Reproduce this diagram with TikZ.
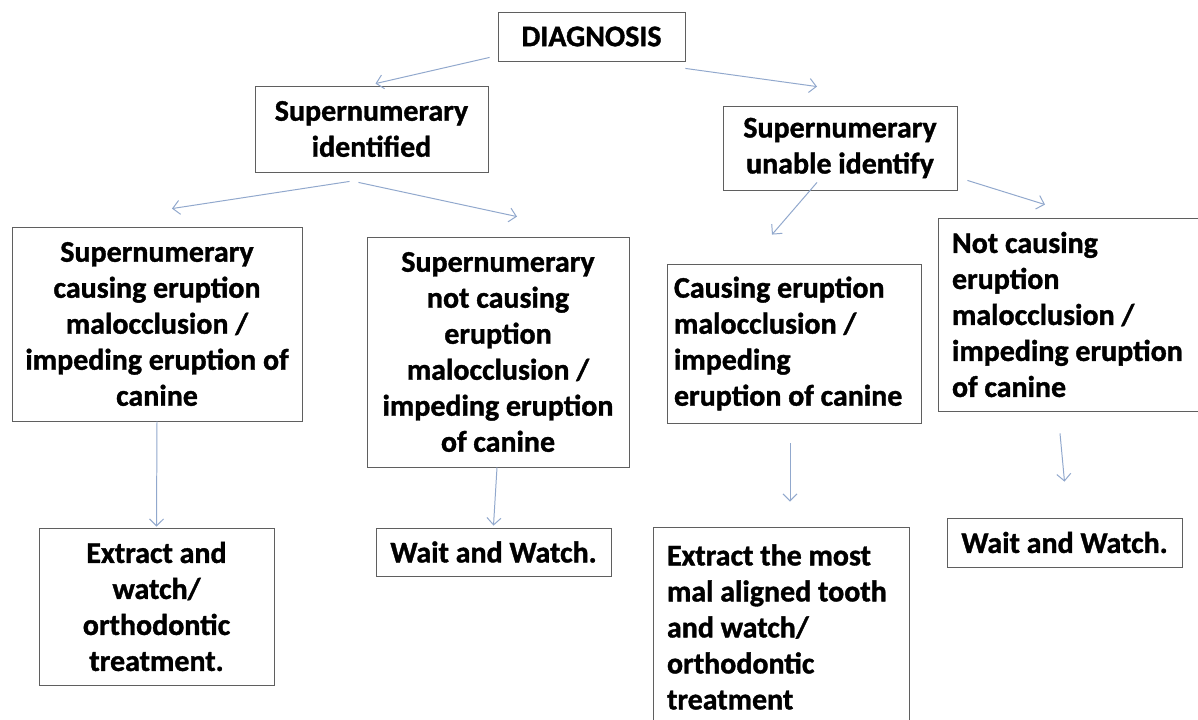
\documentclass[tikz,border=0pt]{standalone}
\usepackage{fontspec}
\setmainfont{Carlito}[BoldFeatures={FakeBold=1.2}]
\usetikzlibrary{calc,arrows.meta}
\newdimen\pxu \pxu=0.025cm
\definecolor{arrowblue}{RGB}{145,168,205}
\definecolor{boxgray}{RGB}{95,95,95}
\tikzset{every node/.style={draw=boxgray,line width=0.6pt,inner sep=0pt,font=\bfseries\fontsize{21.3}{25.6}\selectfont}}
\tikzset{conn/.style={draw=arrowblue,line width=0.7pt,-{Straight Barb[length=1.75mm,width=3.5mm]}}}
\tikzset{sz/.style 2 args={minimum width=#1\pxu,minimum height=#2\pxu}}
\tikzset{c/.style={align=center}}
\tikzset{lft/.style={align=flush left,text width=#1\pxu}}

\begin{document}
\begin{tikzpicture}[x=0.025cm,y=-0.025cm]
\useasboundingbox[fill=white] (0,0) rectangle (1198,719);
\node[sz={187}{49}](diag) at (591.5,36.5) {DIAGNOSIS};
\node[sz={233}{86},c](ident) at (371.5,129) {Supernumerary\\identified};
\node[sz={234}{84},c](unable) at (840,148) {Supernumerary\\unable identify};
\node[sz={290}{194},c](causes) at (157,324) {Supernumerary\\causing eruption\\malocclusion /\\impeding eruption of\\canine};
\node[sz={262}{230},c](notcauses) at (498,352) {Supernumerary\\not causing\\eruption\\malocclusion /\\impeding eruption\\of canine};
\node[sz={254}{159},lft=240](ucauses) at (794,343.5) {Causing eruption\\malocclusion /\\impeding\\eruption of canine};
\node[sz={272}{193},lft=244](unot) at (1074,314.5) {Not causing\\eruption\\malocclusion /\\impeding eruption\\of canine};
\node[sz={235}{157},c](extract) at (156.5,606.5) {Extract and\\watch/\\orthodontic\\treatment.};
\node[sz={235}{48},c](wait) at (493.5,552) {Wait and Watch.};
\node[sz={256}{200},lft=228](extractmost) at (781,627) {Extract the most\\mal aligned tooth\\and watch/\\orthodontic\\treatment};
\node[sz={235}{49},c](waitr) at (1064.5,542.5) {Wait and Watch.};

\foreach \s/\sx/\sy/\t/\tx/\ty in {diag.south west/-8/-4/ident.north/4/-2,
  diag.south east/0/7/unable.north/-23/-19,
  ident.south/-22/9/causes.north/15/-18,
  ident.south/-13/10/notcauses.north/19/-20,
  unable.south/-23/-8/ucauses.north/-22/-29,
  unable.south east/10/-10/unot.north/-29/-13,
  causes.south/0/0/extract.north/0/-1,
  notcauses.south/-1/0/wait.north/0/-2,
  ucauses.south/-4/20/extractmost.north/9/-25,
  unot.south/-14/22/waitr.north/0/-36}
  \draw[conn] ($(\s)+(\sx,\sy)$) -- ($(\t)+(\tx,\ty)$);
\end{tikzpicture}
\end{document}
